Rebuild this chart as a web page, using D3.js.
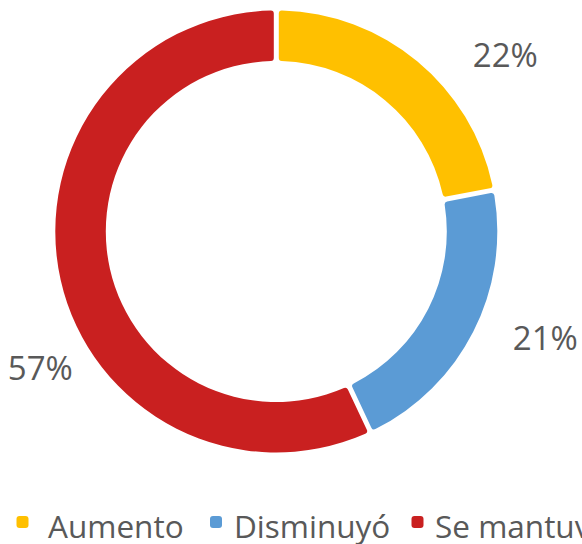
<!DOCTYPE html>
<html><head><meta charset="utf-8">
<script src="https://cdn.jsdelivr.net/npm/d3@7"></script>
<style>html,body{margin:0;padding:0;background:#fff;overflow:hidden}</style>
</head><body>
<svg id="c" width="582" height="544"></svg>
<script>
const categories = ["Aumento", "Disminuyó", "Se mantuvo"];
const values = [22, 21, 57];
const labels = ["22%", "21%", "57%"];
const colors = ["#FFC000", "#5B9BD5", "#C92020"];

const svg = d3.select("#c");
const cx = 276.3, cy = 231.5, R = 221, r = 170.5;
const font = "'Open Sans', sans-serif";

const pie = d3.pie().sort(null).value(d => d)(values);
const arc = d3.arc().innerRadius(r).outerRadius(R)
  .padAngle(5 / R).padRadius(R).cornerRadius(3);

const g = svg.append("g").attr("transform", `translate(${cx},${cy})`);
g.selectAll("path").data(pie).join("path")
  .attr("d", arc).attr("fill", (d, i) => colors[i]);

// data labels (baseline positions relative to centre)
const labelPos = [[229, -164.5], [269, 118], [-236, 148]];
g.selectAll("text.lbl").data(pie).join("text").attr("class", "lbl")
  .attr("x", (d, i) => labelPos[i][0]).attr("y", (d, i) => labelPos[i][1])
  .attr("text-anchor", "middle")
  .attr("font-family", font).attr("font-size", 33).attr("fill", "#595959")
  .text((d, i) => labels[i]);

// legend
const legX = [16.5, 210, 411.5];
const txtX = [48, 234, 435];
const lg = svg.append("g");
categories.forEach((c, i) => {
  lg.append("rect").attr("x", legX[i]).attr("y", 516).attr("width", 12).attr("height", 12)
    .attr("rx", 3).attr("fill", colors[i]);
  lg.append("text").attr("x", txtX[i]).attr("y", 537.5)
    .attr("font-family", font).attr("font-size", 31.5).attr("fill", "#595959").text(c);
});
</script>
</body></html>
